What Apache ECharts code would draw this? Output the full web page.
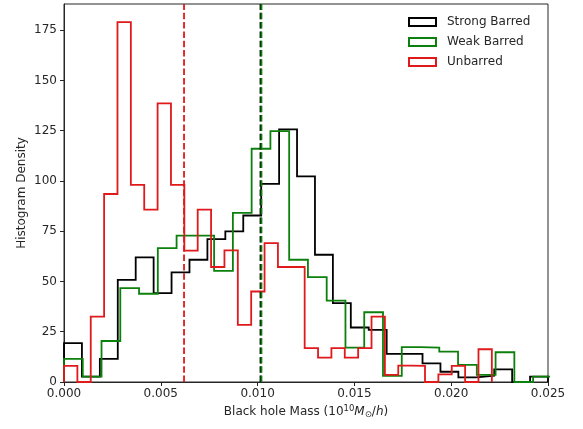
<!DOCTYPE html>
<html>
<head>
<meta charset="utf-8">
<script src="https://cdn.jsdelivr.net/npm/echarts@6/dist/echarts.min.js"></script>
<style>
  html, body { margin: 0; padding: 0; background: #fff; }
  #chart { width: 583px; height: 429px; }
</style>
</head>
<body>
<div id="chart"></div>
<script>
// histogram heights, one value per bin (bins are equal width between lo and hi)
const strongBins = { lo: 0, hi: 0.025 };
const strongVals = [19.3, 2.7, 11.5, 50.8, 62, 44.2, 54.5, 60.8, 71.1, 74.9, 82.8, 98.5, 125.6, 102.3,
  63.3, 39.2, 27.1, 25.9, 14, 14, 9.3, 5.1, 2.3, 3.2, 6.3, 0, 2.7];

const weakBins = { lo: 0, hi: 0.0252 };
const weakVals = [11.5, 2.7, 20.4, 46.7, 43.9, 66.6, 72.8, 72.8, 55.3, 84.1, 116, 124.8, 60.8,
  52.2, 40.5, 17.1, 34.7, 3, 17.3, 17.1, 15.1, 8.5, 3.5, 14.8, 0, 2.7];

const unbarredBins = { lo: 0, hi: 0.0221 };
const unbarredVals = [8, 0, 32.5, 93.5, 179, 98, 85.7, 138.6, 98, 65.3, 85.7, 57.2, 65.5, 28.4,
  45, 69.1, 57.2, 57.2, 16.8, 12.1, 16.8, 12.1, 16.8, 32.5, 3.5, 8.1, 8, 0, 3.8, 8, 0, 16.3];

// medians (dashed lines)
const strongMedian = 0.01015;
const weakMedian = 0.0102;
const unbarredMedian = 0.0062;

const xTicks = [0, 0.005, 0.010, 0.015, 0.020, 0.025];
const yTicks = [0, 25, 50, 75, 100, 125, 150, 175];
const yMax = 188;

const seriesNames = ['Strong Barred', 'Weak Barred', 'Unbarred'];
const colors = ['#000000', '#0c800c', '#e0191b'];

const FONT = 'DejaVu Sans';
const AXIS_COLOR = '#262626';

// outline of a step histogram, like matplotlib histtype='step'
function stepOutline(bins, vals) {
  const n = vals.length;
  const w = (bins.hi - bins.lo) / n;
  const pts = [[bins.lo, 0]];
  for (let i = 0; i < n; i++) {
    pts.push([bins.lo + i * w, vals[i]]);
    pts.push([bins.lo + (i + 1) * w, vals[i]]);
  }
  pts.push([bins.hi, 0]);
  return pts;
}

function histSeries(name, color, bins, vals) {
  return {
    name: name,
    type: 'line',
    data: stepOutline(bins, vals),
    symbol: 'none',
    clip: true,
    lineStyle: { color: color, width: 1.8, join: 'miter' },
    itemStyle: { color: color }
  };
}

function medianSeries(color, x) {
  return {
    type: 'line',
    data: [[x, 0], [x, yMax]],
    symbol: 'none',
    silent: true,
    lineStyle: { color: color, width: 1.8, type: [6.5, 2.8] }
  };
}

// empty bar series just to get box-shaped legend icons
function legendSeries(name, color) {
  return {
    name: name,
    type: 'bar',
    data: [],
    itemStyle: { color: '#ffffff', borderColor: color, borderWidth: 1.6 }
  };
}

const chart = echarts.init(document.getElementById('chart'), null, { renderer: 'canvas' });

const option = {
  animation: false,
  backgroundColor: '#ffffff',
  textStyle: { fontFamily: FONT },
  grid: {
    left: 64, right: 35, top: 4, bottom: 47,
    show: true, borderColor: AXIS_COLOR, borderWidth: 1, backgroundColor: 'transparent'
  },
  legend: {
    orient: 'vertical',
    left: 408,
    top: 15,
    padding: 0,
    itemGap: 6,
    itemWidth: 27,
    itemHeight: 8,
    icon: 'rect',
    data: seriesNames,
    textStyle: { fontFamily: FONT, fontSize: 12, color: AXIS_COLOR, lineHeight: 14, padding: [0, 0, 0, 6] }
  },
  xAxis: {
    type: 'value',
    min: 0,
    max: 0.025,
    interval: 0.005,
    name: 'Black hole Mass (10{sup|10}{it|M}{sub|⊙}/{it|h})',
    nameLocation: 'middle',
    nameGap: 22,
    nameMoveOverlap: false,
    nameTextStyle: {
      fontFamily: FONT, fontSize: 12, color: AXIS_COLOR, verticalAlign: 'top',
      rich: {
        sup: { fontFamily: FONT, fontSize: 8.5, color: AXIS_COLOR, padding: [0, 0, 7, 0] },
        it: { fontFamily: FONT, fontSize: 12, fontStyle: 'italic', color: AXIS_COLOR },
        sub: { fontFamily: FONT, fontSize: 8.5, color: AXIS_COLOR, padding: [6, 0, 0, 0] }
      }
    },
    axisLine: { show: true, lineStyle: { color: AXIS_COLOR, width: 1 } },
    axisTick: { show: true, inside: false, length: 4, customValues: xTicks, lineStyle: { color: AXIS_COLOR } },
    axisLabel: {
      customValues: xTicks,
      margin: 6,
      fontFamily: FONT, fontSize: 12, color: AXIS_COLOR,
      formatter: v => v.toFixed(3)
    },
    splitLine: { show: false }
  },
  yAxis: {
    type: 'value',
    min: 0,
    max: yMax,
    interval: 25,
    name: 'Histogram Density',
    nameLocation: 'middle',
    nameGap: 36,
    nameMoveOverlap: false,
    nameTextStyle: { fontFamily: FONT, fontSize: 12, color: AXIS_COLOR },
    axisLine: { show: true, lineStyle: { color: AXIS_COLOR, width: 1 } },
    axisTick: { show: true, inside: false, length: 4, customValues: yTicks, lineStyle: { color: AXIS_COLOR } },
    axisLabel: {
      customValues: yTicks,
      margin: 7,
      fontFamily: FONT, fontSize: 12, color: AXIS_COLOR
    },
    splitLine: { show: false }
  },
  series: [
    legendSeries(seriesNames[0], colors[0]),
    legendSeries(seriesNames[1], colors[1]),
    legendSeries(seriesNames[2], colors[2]),
    histSeries(seriesNames[0], colors[0], strongBins, strongVals),
    histSeries(seriesNames[1], colors[1], weakBins, weakVals),
    histSeries(seriesNames[2], colors[2], unbarredBins, unbarredVals),
    medianSeries(colors[0], strongMedian),
    medianSeries(colors[1], weakMedian),
    medianSeries(colors[2], unbarredMedian)
  ]
};

chart.setOption(option);
</script>
</body>
</html>
